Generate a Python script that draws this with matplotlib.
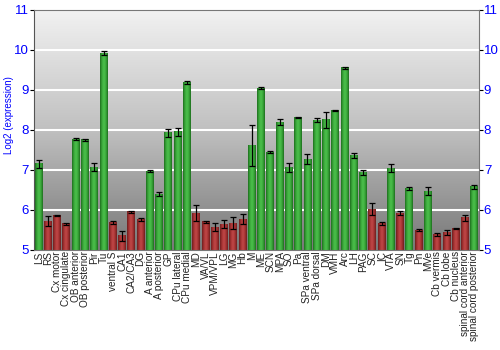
import matplotlib.pyplot as plt
import numpy as np
from matplotlib.colors import LinearSegmentedColormap

plt.rcParams['font.family'] = ['Liberation Sans', 'DejaVu Sans']

# 数据
regions = ['LS', 'RS', 'Cx motor', 'Cx cingulate', 'OB anterior', 'OB posterior', 'Pir', 'Tu',
           'ventral S', 'CA1', 'CA2/CA3', 'DG', 'A anterior', 'A posterior', 'GP', 'CPu lateral',
           'CPu medial', 'MD', 'VA/VL', 'VPM/VPL', 'LG', 'MG', 'Hb', 'M', 'ME', 'SCN', 'MPA',
           'SO', 'Pa', 'SPa ventral', 'SPa dorsal', 'DM', 'VMH', 'Arc', 'LH', 'PAG', 'SC', 'IC',
           'VTA', 'SN', 'Tg', 'Pn', 'MVe', 'Cb vermis', 'Cb lobe', 'Cb nucleus',
           'spinal cord anterior', 'spinal cord posterior']
values = [7.15, 5.72, 5.86, 5.65, 7.77, 7.75, 7.07, 9.92,
          5.68, 5.35, 5.95, 5.76, 6.97, 6.39, 7.93, 7.95,
          9.18, 5.92, 5.70, 5.57, 5.64, 5.67, 5.77, 7.61, 9.04, 7.44, 8.19,
          7.06, 8.31, 7.27, 8.24, 8.25, 8.48, 9.55, 7.36, 6.93, 6.01, 5.66,
          7.04, 5.92, 6.54, 5.49, 6.47, 5.38, 5.44, 5.53,
          5.80, 6.58]
errors = [0.1, 0.12, 0.02, 0.03, 0.02, 0.03, 0.1, 0.06,
          0.03, 0.12, 0.03, 0.03, 0.02, 0.05, 0.1, 0.1,
          0.03, 0.19, 0.03, 0.1, 0.1, 0.15, 0.12, 0.51, 0.02, 0.03, 0.07,
          0.12, 0.02, 0.12, 0.05, 0.2, 0.02, 0.02, 0.07, 0.06, 0.15, 0.03,
          0.1, 0.06, 0.04, 0.02, 0.1, 0.04, 0.06, 0.02,
          0.08, 0.05]
# g = 高表达 (绿), r = 低表达 (红)
level = ['g', 'r', 'r', 'r', 'g', 'g', 'g', 'g',
         'r', 'r', 'r', 'r', 'g', 'g', 'g', 'g',
         'g', 'r', 'r', 'r', 'r', 'r', 'r', 'g', 'g', 'g', 'g',
         'g', 'g', 'g', 'g', 'g', 'g', 'g', 'g', 'g', 'r', 'r',
         'g', 'r', 'g', 'r', 'g', 'r', 'r', 'r',
         'r', 'g']

cmaps = {
    'g': LinearSegmentedColormap.from_list('gr', ['#1e6e1e', '#3aa83a', '#4cc04c', '#3aa83a', '#1e6e1e']),
    'r': LinearSegmentedColormap.from_list('rd', ['#6e1e1e', '#a83434', '#c04848', '#a83434', '#6e1e1e']),
}

fig = plt.figure(figsize=(5, 3.5), dpi=100)
ax = fig.add_axes([0.068, 0.286, 0.89, 0.686])

ymin, ymax = 5, 11
x = np.arange(len(regions))
xlim = (-0.5, len(regions) - 0.5)

# 背景渐变
bg = LinearSegmentedColormap.from_list('bg', ['#787878', '#c0c0c0', '#f2f2f2'])
ax.imshow(np.linspace(0, 1, 256).reshape(-1, 1), cmap=bg, origin='lower', aspect='auto',
          extent=(xlim[0], xlim[1], ymin, ymax), zorder=0)

for yv in range(6, 11):
    ax.axhline(yv, color='white', lw=1.5, zorder=1)

w = 0.86
grad = np.linspace(0, 1, 64).reshape(1, -1)
for xi, v, lv in zip(x, values, level):
    ax.imshow(grad, cmap=cmaps[lv], aspect='auto', origin='lower',
              extent=(xi - w / 2, xi + w / 2, ymin, v), zorder=2)

ax.errorbar(x, values, yerr=errors, fmt='none', ecolor='black', elinewidth=0.9,
            capsize=2, capthick=0.9, zorder=3)

ax.set_xlim(*xlim)
ax.set_ylim(ymin, ymax)
ax.set_xticks(x)
ax.set_xticklabels(regions, rotation=90, fontsize=7.2, color='#222222')
ax.tick_params(axis='x', length=0, pad=1)
ax.set_yticks(range(5, 12))
ax.tick_params(axis='y', which='both', labelsize=9.5, labelcolor='blue', length=3,
               right=True, labelright=True, direction='out', pad=0.5)
ax.set_ylabel('Log2 (expression)', color='blue', fontsize=7)
ax.yaxis.set_label_coords(-0.046, 0.56)
for s in ['top', 'right', 'bottom']:
    ax.spines[s].set_color('#777777')
ax.spines['left'].set_color('#555555')

fig.savefig('out.png', dpi=100)
